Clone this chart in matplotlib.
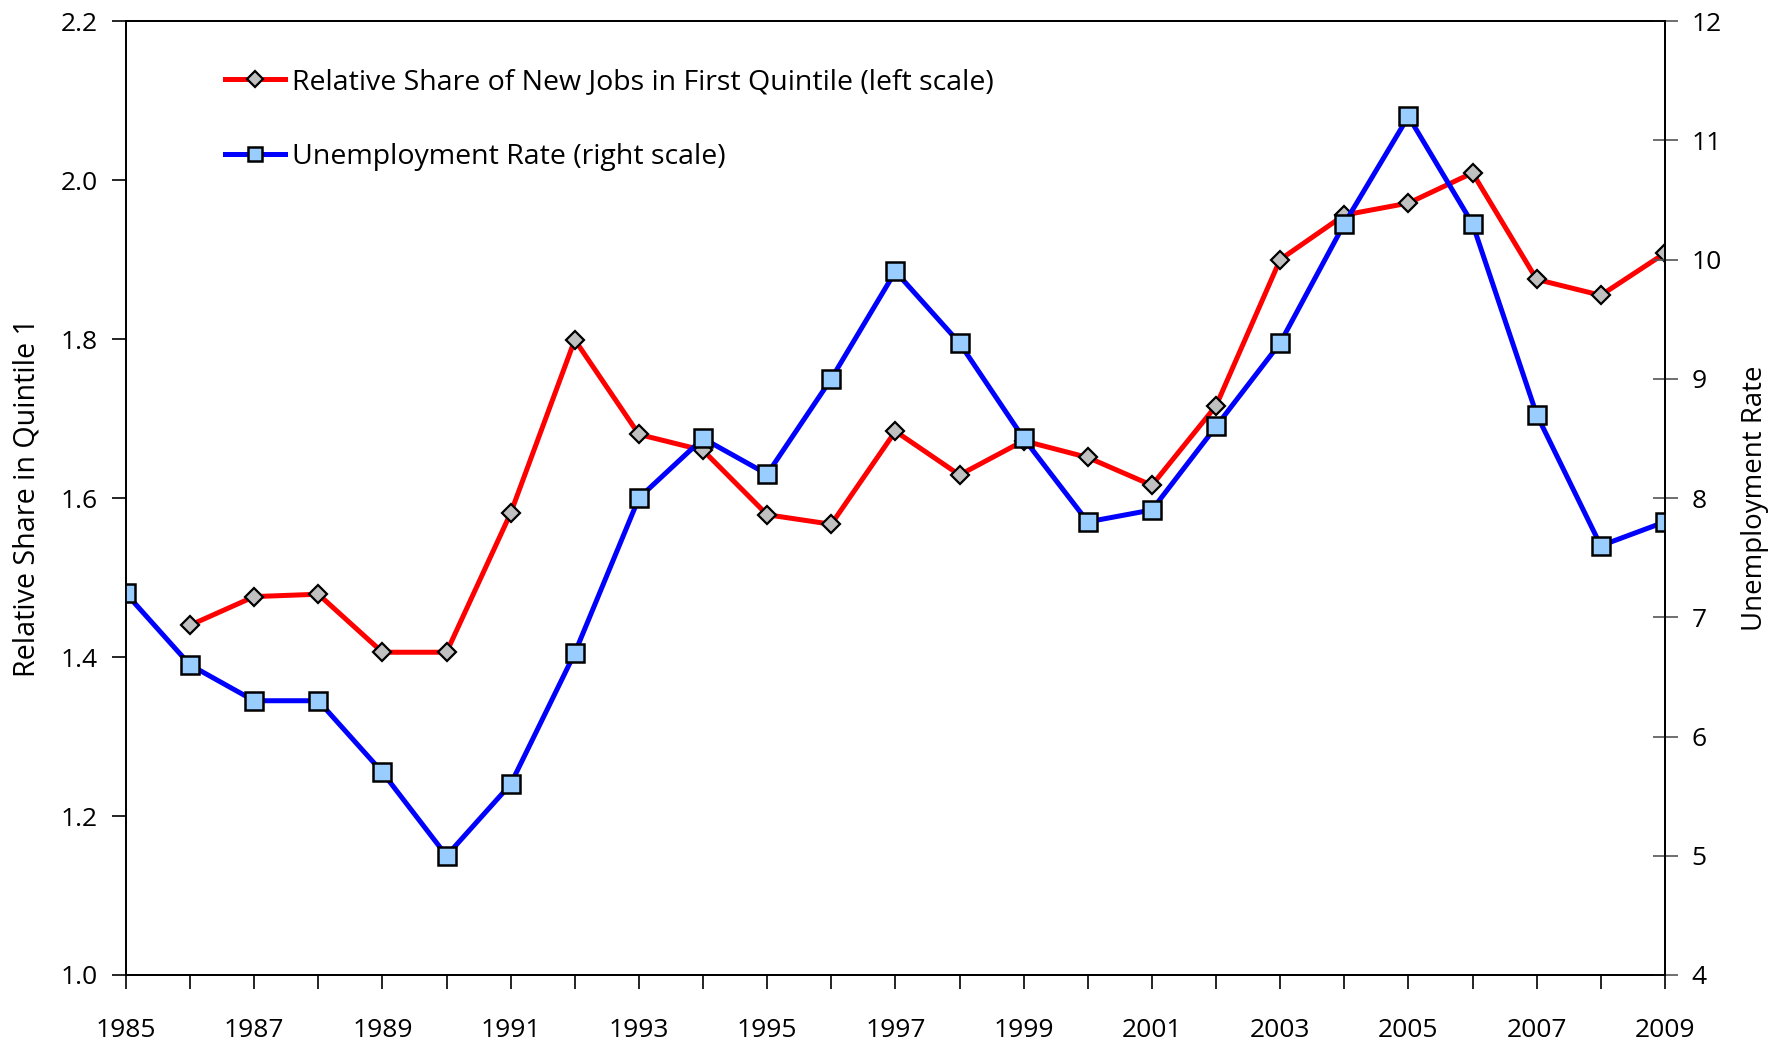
import matplotlib
matplotlib.use("Agg")
import matplotlib.pyplot as plt

years = list(range(1985, 2010))
share_years = list(range(1986, 2010))
share_q1 = [1.440, 1.476, 1.479, 1.406, 1.406, 1.581, 1.799, 1.680, 1.660, 1.579,
            1.567, 1.684, 1.629, 1.672, 1.651, 1.616, 1.716, 1.900, 1.956, 1.971,
            2.009, 1.875, 1.855, 1.908]
unemployment = [7.2, 6.6, 6.3, 6.3, 5.7, 5.0, 5.6, 6.7, 8.0, 8.5, 8.2, 9.0, 9.9,
                9.3, 8.5, 7.8, 7.9, 8.6, 9.3, 10.3, 11.2, 10.3, 8.7, 7.6, 7.8]
label_share = "Relative Share of New Jobs in First Quintile (left scale)"
label_unemp = "Unemployment Rate (right scale)"

plt.rcParams['font.family'] = ['Open Sans', 'DejaVu Sans']

fig = plt.figure(figsize=(17.91, 10.42), dpi=100)
ax = fig.add_axes([0.0703, 0.0643, 0.8593, 0.9155])
ax2 = ax.twinx()

l1, = ax.plot(share_years, share_q1, color='#ff0000', lw=3.6, marker='D', ms=9.5,
              mfc='#c0c0c0', mec='black', mew=1.6, label=label_share)
l2, = ax2.plot(years, unemployment, color='#0000ff', lw=3.6, marker='s', ms=12.5,
               mfc='#99ccff', mec='black', mew=1.8, label=label_unemp)

ax.set_xlim(1985, 2009)
ax.set_ylim(1.0, 2.2)
ax2.set_ylim(4, 12)
ax.set_xticks(range(1985, 2010))
ax.set_xticklabels([str(y) if (y - 1985) % 2 == 0 else '' for y in range(1985, 2010)])
ax.set_yticks([1.0, 1.2, 1.4, 1.6, 1.8, 2.0, 2.2])
ax.set_yticklabels(['1.0', '1.2', '1.4', '1.6', '1.8', '2.0', '2.2'])
ax2.set_yticks(range(4, 13))

ax.tick_params(axis='x', direction='out', length=10, width=1.2, pad=21, labelsize=19)
ax.tick_params(axis='y', direction='out', length=10, width=1.2, pad=10, labelsize=19)
ax2.tick_params(axis='y', direction='inout', length=18, width=1.2, pad=10, labelsize=19,
                color='#555555')
for a in (ax, ax2):
    for s in a.spines.values():
        s.set_linewidth(1.3)

ax.set_ylabel("Relative Share in Quintile 1", fontsize=20.6, labelpad=14)
ax2.set_ylabel("Unemployment Rate", fontsize=19.9, labelpad=14, rotation=90)

leg = ax2.legend(handles=[l1, l2], loc='upper left', bbox_to_anchor=(0.057, 0.963),
                 frameon=False, fontsize=20.5, handlelength=2.1, handletextpad=0.25,
                 labelspacing=1.67, borderaxespad=0.0, markerscale=0.85)

fig.savefig("out.png", dpi=100)
